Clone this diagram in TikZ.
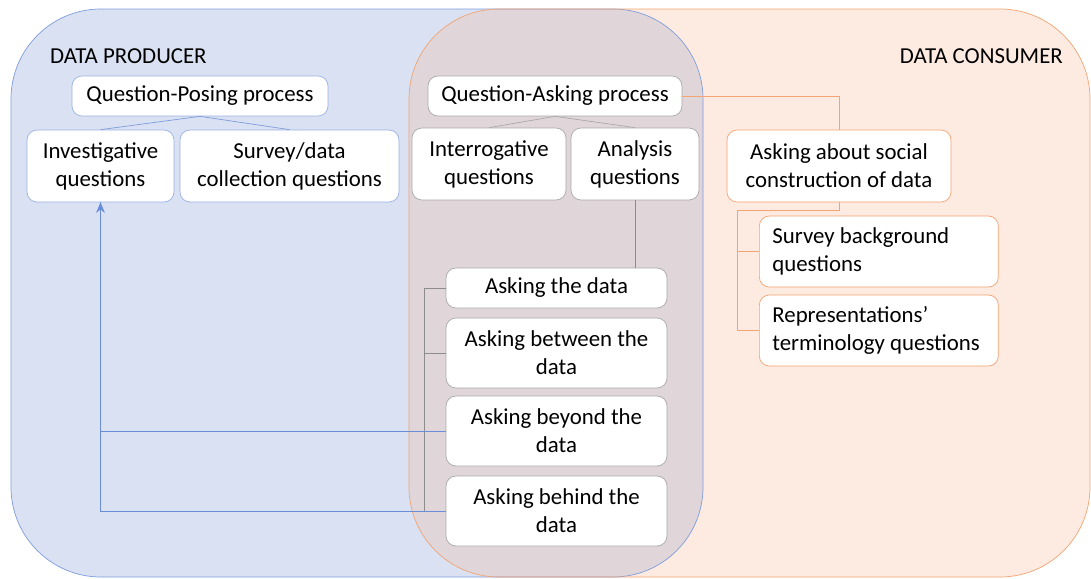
\documentclass[tikz,border=0pt]{standalone}
\usepackage{fontspec}
\setmainfont{Carlito}
\usetikzlibrary{arrows.meta}

\definecolor{prodfill}{HTML}{D9E1F2}
\definecolor{prodline}{HTML}{7F9DDD}
\definecolor{prodedge}{HTML}{6A8DDA}
\definecolor{consfill}{HTML}{FDEAE0}
\definecolor{consline}{HTML}{F2A472}
\definecolor{bothfill}{HTML}{E0D6DA}
\definecolor{askline}{HTML}{A9A9A9}
\definecolor{askedge}{HTML}{8C8C8C}

\begin{document}
\begin{tikzpicture}[x=0.02cm,y=-0.02cm]
      \tikzset{
        every node/.style={font=\fontsize{13}{16}\selectfont},
        qbox/.style={draw,fill=white,rounded corners=0.2cm,align=center,inner sep=0pt,minimum height=1.44cm},
        prodbox/.style={qbox,draw=prodline!80},
        askbox/.style={qbox,draw=askline},
        consbox/.style={qbox,draw=consline},
        region/.style={rounded corners=1.8cm}
      }

      \useasboundingbox (0,0) rectangle (1091,578);

      % producer / consumer areas and their overlap
      \fill[prodfill,region] (11,9) rectangle (703,577);
      \fill[consfill,region] (409,9) rectangle (1090,577);
      \begin{scope}
        \clip[region] (11,9) rectangle (703,577);
        \fill[bothfill,region] (409,9) rectangle (1090,577);
      \end{scope}
      \draw[prodline,region] (11,9) rectangle (703,577);
      \draw[consline,region] (409,9) rectangle (1090,577);

      \node[anchor=west] (prod) at (44,56) {DATA PRODUCER};
      \node[anchor=east] (cons) at (1069,56) {DATA CONSUMER};

      % question-posing side
      \node[prodbox,minimum width=5.12cm,minimum height=0.8cm] (qpose) at (200,96) {Question-Posing process};
      \node[prodbox,minimum width=2.94cm] (invq) at (100.5,166) {Investigative\\questions};
      \node[prodbox,minimum width=4.38cm] (survq) at (289.5,166) {Survey/data\\collection questions};

      % question-asking side
      \node[askbox,minimum width=5.08cm,minimum height=0.8cm] (qask) at (555,96) {Question-Asking process};
      \node[askbox,minimum width=3.08cm] (interq) at (489,164) {Interrogative\\questions};
      \node[askbox,minimum width=2.56cm] (anaq) at (635,164) {Analysis\\questions};

      \node[askbox,minimum width=4.42cm,minimum height=0.8cm] (askthe) at (556.5,288) {Asking the data};
      \node[askbox,minimum width=4.42cm,minimum height=1.4cm] (askbetween) at (556.5,353) {Asking between the\\data};
      \node[askbox,minimum width=4.42cm,minimum height=1.4cm] (askbeyond) at (556.5,431) {Asking beyond the\\data};
      \node[askbox,minimum width=4.42cm,minimum height=1.4cm] (askbehind) at (556.5,511) {Asking behind the\\data};

      % consumer side
      \node[consbox,minimum width=4.48cm] (social) at (839,166) {Asking about social\\construction of data};
      \node[consbox,minimum width=4.78cm,minimum height=1.42cm,align=flush left,anchor=west,inner xsep=0.26cm,text width=4.26cm] (surbg) at (759,251.5) {Survey background\\questions};
      \node[consbox,minimum width=4.78cm,minimum height=1.42cm,align=flush left,anchor=west,inner xsep=0.26cm,text width=4.26cm] (repq) at (759,330.5) {Representations'\\terminology questions};

      \coordinate (sj) at (737,210);
      \coordinate (ak) at (424,288);

      \draw[prodline] (qpose.south) -- (invq.north)
                      (qpose.south) -- (survq.north);
      \draw[askline] (qask.south) -- (interq.north)
                     (qask.south) -- (anaq.north);
      \draw[askedge] (anaq.south) -- (anaq.south |- askthe.north);
      \draw[askedge] (askthe.west) -- (ak) |- (askbehind.west)
                     (ak |- askbetween.west) -- (askbetween.west);

      \draw[consline] (qask.east) -| (social.north);
      \draw[consline] (social.south) -- (social.south |- sj) -- (sj) |- (repq.west)
                      (sj |- surbg.west) -- (surbg.west);

      \draw[prodedge] (askbeyond.west) -| (invq.south);
      \draw[prodedge,-{Stealth[length=6pt,width=5pt]}] (askbehind.west) -| (invq.south);
\end{tikzpicture}
\end{document}
